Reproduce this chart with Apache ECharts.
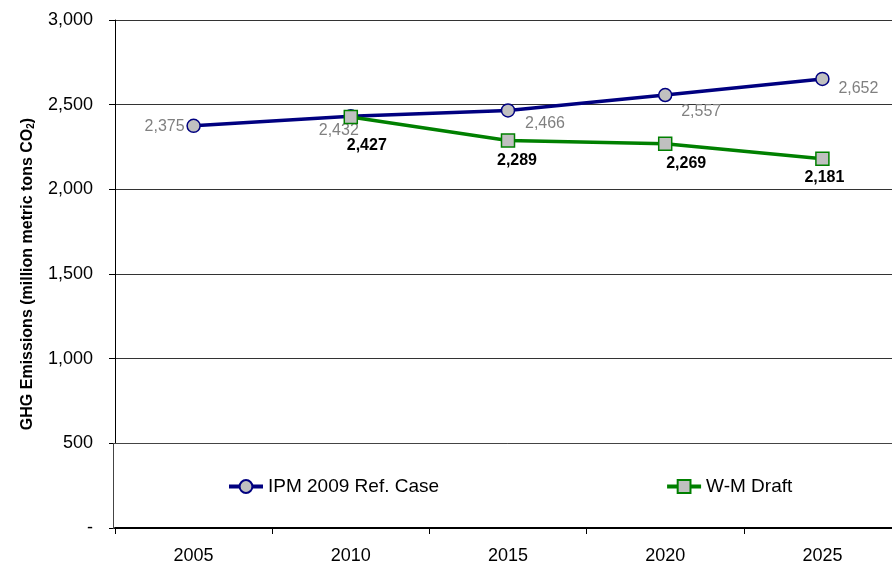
<!DOCTYPE html>
<html>
<head>
<meta charset="utf-8">
<script src="https://cdn.jsdelivr.net/npm/echarts@6/dist/echarts.min.js"></script>
<style>html,body{margin:0;padding:0;background:#fff;overflow:hidden;width:892px;height:566px}#c{width:901px;height:566px}</style>
</head>
<body>
<div id="c"></div>
<script>
const years = ['2005', '2010', '2015', '2020', '2025'];
const ipmRefCase = [2375, 2432, 2466, 2557, 2652];
const wmDraft = [null, 2427, 2289, 2269, 2181];
const yTicks = [0, 500, 1000, 1500, 2000, 2500, 3000];

const fmt = v => v.toLocaleString('en-US');
const ipmOffsets = [[-29, 1], [-12, 14], [37, 13], [36, 17], [36, 10]];
const wmOffsets = [null, [16, 29], [9, 20], [21, 20], [2, 19]];
const FONT = 'Liberation Sans, Arial, sans-serif';

const chart = echarts.init(document.getElementById('c'), null, {renderer: 'canvas'});
chart.setOption({
  animation: false,
  backgroundColor: '#fff',
  textStyle: {fontFamily: FONT},
  grid: {left: 115, top: 20, right: 0, bottom: 38},
  graphic: [{
    type: 'rect',
    z: 1,
    shape: {x: 113.5, y: 443.5, width: 800, height: 85},
    style: {fill: '#fff', stroke: '#444', lineWidth: 1}
  }],
  xAxis: {
    type: 'category',
    data: years,
    boundaryGap: true,
    z: 3,
    axisLine: {lineStyle: {color: '#000', width: 2}},
    axisTick: {show: true, length: 6, lineStyle: {color: '#000'}},
    axisLabel: {color: '#000', fontSize: 18, margin: 19}
  },
  yAxis: {
    type: 'value',
    min: yTicks[0], max: yTicks[yTicks.length - 1], interval: 500,
    z: 0,
    name: '{a|GHG Emissions (million metric tons CO}{s|2}{a|)}',
    nameLocation: 'middle',
    nameGap: 79,
    nameRotate: 90,
    nameTextStyle: {
      rich: {
        a: {fontSize: 16, fontWeight: 'bold', color: '#000', fontFamily: FONT},
        s: {fontSize: 10, fontWeight: 'bold', color: '#000', fontFamily: FONT, padding: [7, 0, 0, 0]}
      }
    },
    axisLine: {show: true, lineStyle: {color: '#000', width: 1}},
    axisTick: {show: true, length: 6, lineStyle: {color: '#000'}},
    axisLabel: {color: '#000', fontSize: 18, margin: 22, formatter: v => v === 0 ? '-' : fmt(v)},
    splitLine: {show: true, lineStyle: {color: '#333', width: 1}}
  },
  legend: {
    left: 227, top: 477,
    padding: 0,
    itemGap: 226,
    itemWidth: 34, itemHeight: 16,
    lineStyle: {width: 4},
    textStyle: {color: '#000', fontSize: 19},
    data: ['IPM 2009 Ref. Case', 'W-M Draft']
  },
  series: [
    {
      name: 'IPM 2009 Ref. Case',
      type: 'line',
      data: ipmRefCase.map((v, i) => ({value: v, label: {offset: ipmOffsets[i]}})),
      symbol: 'circle', symbolSize: 13,
      lineStyle: {color: '#000080', width: 3.5},
      itemStyle: {color: '#c0c0c0', borderColor: '#000080', borderWidth: 1.5},
      label: {show: true, position: 'inside', color: '#808080', fontSize: 16, formatter: p => fmt(p.value)},
      z: 2
    },
    {
      name: 'W-M Draft',
      type: 'line',
      data: wmDraft.map((v, i) => v == null ? null : ({value: v, label: {offset: wmOffsets[i]}})),
      symbol: 'rect', symbolSize: 13,
      lineStyle: {color: '#008000', width: 3.5},
      itemStyle: {color: '#c0c0c0', borderColor: '#008000', borderWidth: 1.5},
      label: {show: true, position: 'inside', color: '#000', fontWeight: 'bold', fontSize: 16, formatter: p => fmt(p.value)},
      z: 3
    }
  ]
});
</script>
</body>
</html>
